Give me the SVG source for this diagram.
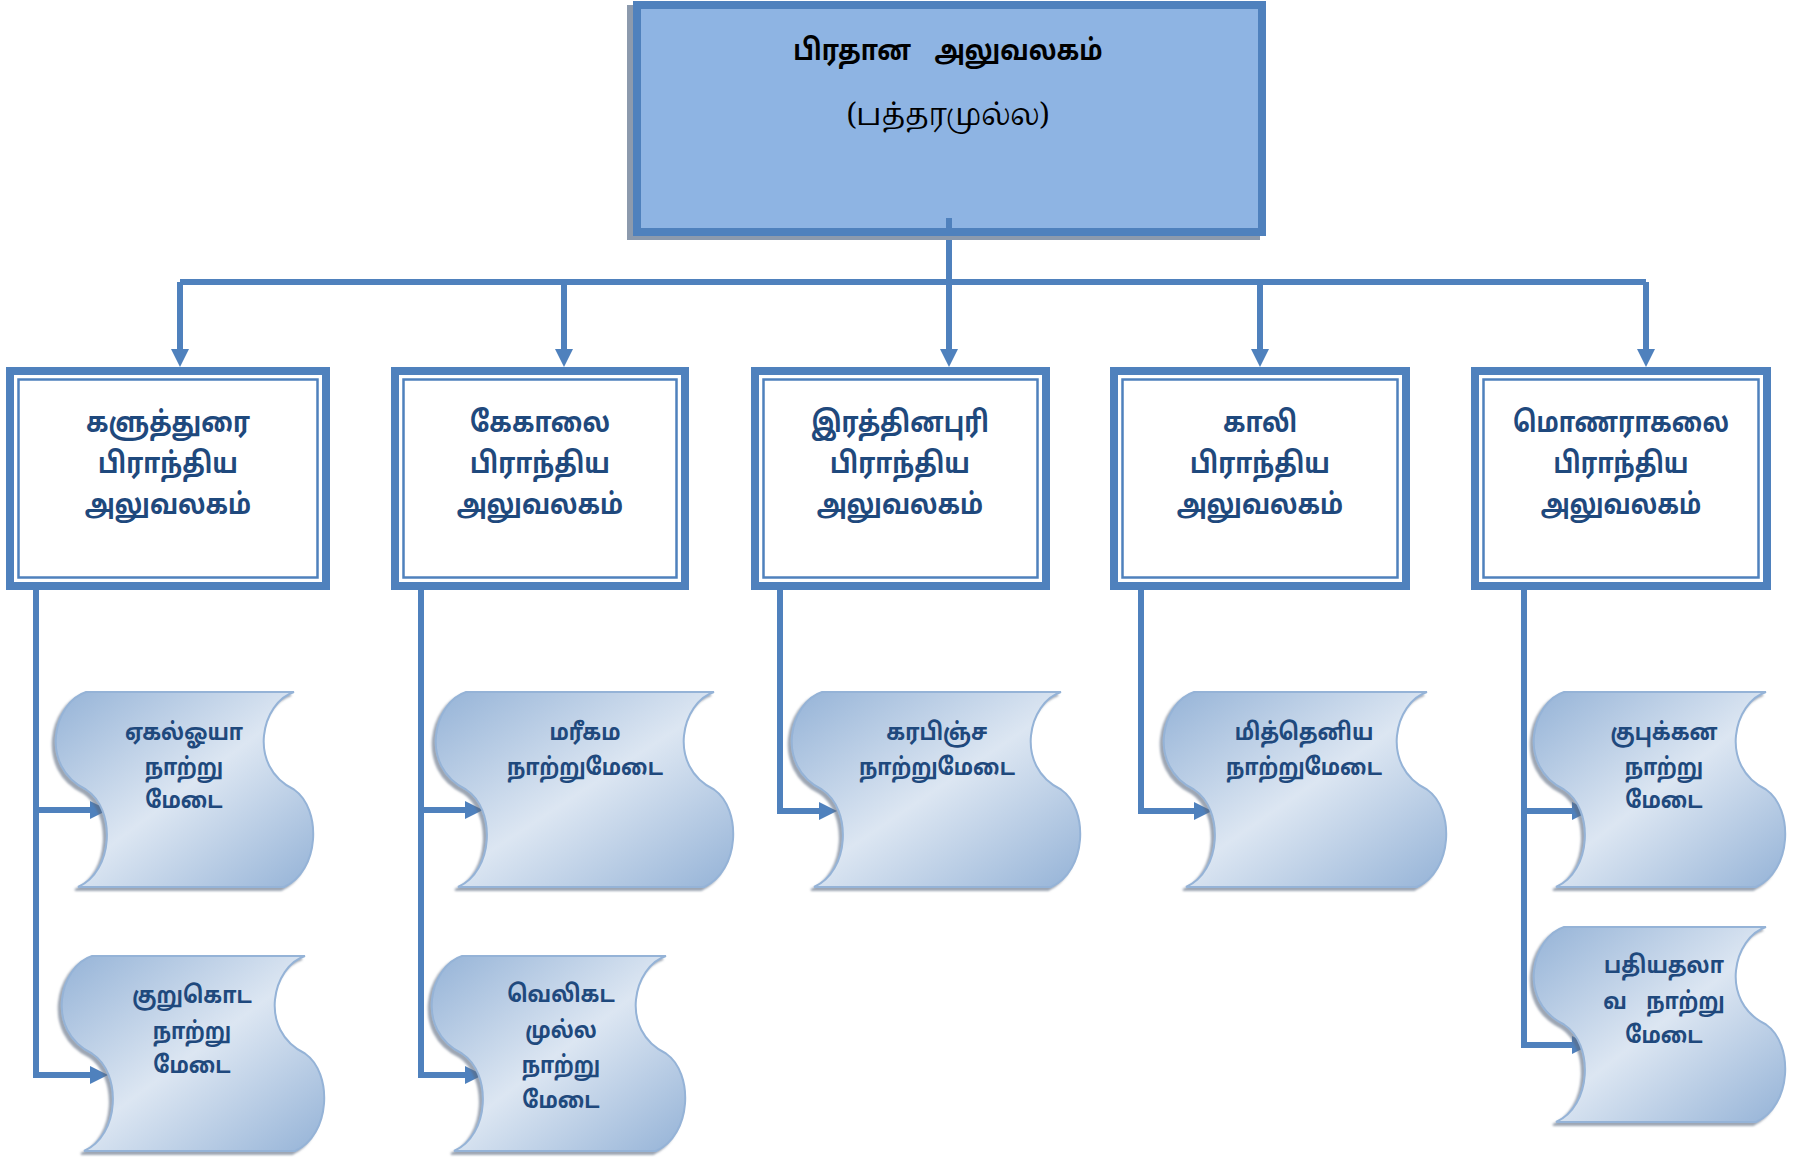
<svg xmlns="http://www.w3.org/2000/svg" width="1796" height="1157" viewBox="0 0 1796 1157">
<style>
.conn{fill:none;stroke:#4F81BD;stroke-width:6;stroke-linejoin:miter}
.rbox{fill:#FFFFFF;stroke:#4F81BD;stroke-width:8}
.rin{fill:none;stroke:#4F81BD;stroke-width:2.5}
.rtxt{font-family:"Noto Sans Tamil","Latha","Lohit Tamil","Noto Sans",sans-serif;font-weight:bold;font-size:29px;fill:#1F497D;text-anchor:middle}
.stxt{font-family:"Noto Sans Tamil","Latha","Lohit Tamil","Noto Sans",sans-serif;font-weight:bold;font-size:24px;fill:#1F497D;text-anchor:middle;white-space:pre}
.scroll{fill:url(#sg);stroke:#95B3D7;stroke-width:2;filter:url(#sh)}
.title{font-family:"Noto Sans Tamil","Latha","Lohit Tamil","Noto Sans",sans-serif;font-weight:bold;font-size:29px;fill:#000000;text-anchor:middle;white-space:pre;word-spacing:6px}
.sub{font-family:"Noto Serif Tamil","Noto Sans Tamil","Latha","Liberation Serif",serif;font-size:31px;fill:#000000;text-anchor:middle}
</style>
<defs>
<linearGradient id="sg" x1="0" y1="0" x2="1" y2="1">
<stop offset="0" stop-color="#95B3D7"/>
<stop offset="0.5" stop-color="#DCE6F2"/>
<stop offset="1" stop-color="#95B3D7"/>
</linearGradient>
<filter id="sh" x="-10%" y="-10%" width="120%" height="120%">
<feDropShadow dx="-3" dy="3" stdDeviation="1.2" flood-color="#5A6A80" flood-opacity="0.6"/>
</filter>
<marker id="ah" markerUnits="userSpaceOnUse" markerWidth="20" markerHeight="20" viewBox="0 0 20 20" refX="8" refY="10" orient="auto">
<path d="M0,1 L18,10 L0,19 Z" fill="#4F81BD"/>
</marker>
</defs>

<g id="connectors">
<path class="conn" d="M949,218 V282"/>
<path class="conn" d="M180,282 H1646"/>
<path class="conn" d="M180,282 V357" marker-end="url(#ah)"/>
<path class="conn" d="M564,282 V357" marker-end="url(#ah)"/>
<path class="conn" d="M949,282 V357" marker-end="url(#ah)"/>
<path class="conn" d="M1260,282 V357" marker-end="url(#ah)"/>
<path class="conn" d="M1646,282 V357" marker-end="url(#ah)"/>
<path class="conn" d="M36,590 V1075 H98" marker-end="url(#ah)"/>
<path class="conn" d="M36,810 H98" marker-end="url(#ah)"/>
<path class="conn" d="M421,590 V1075 H473" marker-end="url(#ah)"/>
<path class="conn" d="M421,810 H473" marker-end="url(#ah)"/>
<path class="conn" d="M780,590 V811 H827" marker-end="url(#ah)"/>
<path class="conn" d="M1141,590 V811 H1202" marker-end="url(#ah)"/>
<path class="conn" d="M1524,590 V1045 H1580" marker-end="url(#ah)"/>
<path class="conn" d="M1524,811 H1580" marker-end="url(#ah)"/>
</g>

<g id="head">
<rect x="627" y="5" width="633" height="235" fill="#8C9AAD"/>
<rect x="637" y="5" width="625" height="227" fill="#8EB4E3" stroke="#4F81BD" stroke-width="8"/>
<text class="title" xml:space="preserve" transform="translate(948,0) scale(0.86,1)" x="0" y="60">பிரதான  அலுவலகம்</text>
<text class="sub" transform="translate(948,0) scale(0.9,1)" x="0" y="125">(பத்தரமுல்ல)</text>
<path class="conn" d="M949,218 V232"/>
</g>

<g id="r1">
<rect class="rbox" x="10" y="371" width="316" height="215"/>
<rect class="rin" x="18.5" y="379.5" width="299" height="198"/>
<g transform="translate(168,0) scale(0.85,1)">
<text class="rtxt" x="0" y="432">களுத்துரை</text>
<text class="rtxt" x="0" y="473">பிராந்திய</text>
<text class="rtxt" x="0" y="514">அலுவலகம்</text>
</g>
</g>
<g id="r2">
<rect class="rbox" x="395" y="371" width="290" height="215"/>
<rect class="rin" x="403.5" y="379.5" width="273" height="198"/>
<g transform="translate(540,0) scale(0.85,1)">
<text class="rtxt" x="0" y="432">கேகாலை</text>
<text class="rtxt" x="0" y="473">பிராந்திய</text>
<text class="rtxt" x="0" y="514">அலுவலகம்</text>
</g>
</g>
<g id="r3">
<rect class="rbox" x="755" y="371" width="291" height="215"/>
<rect class="rin" x="763.5" y="379.5" width="274" height="198"/>
<g transform="translate(900,0) scale(0.85,1)">
<text class="rtxt" x="0" y="432">இரத்தினபுரி</text>
<text class="rtxt" x="0" y="473">பிராந்திய</text>
<text class="rtxt" x="0" y="514">அலுவலகம்</text>
</g>
</g>
<g id="r4">
<rect class="rbox" x="1114" y="371" width="292" height="215"/>
<rect class="rin" x="1122.5" y="379.5" width="275" height="198"/>
<g transform="translate(1260,0) scale(0.85,1)">
<text class="rtxt" x="0" y="432">காலி</text>
<text class="rtxt" x="0" y="473">பிராந்திய</text>
<text class="rtxt" x="0" y="514">அலுவலகம்</text>
</g>
</g>
<g id="r5">
<rect class="rbox" x="1475" y="371" width="292" height="215"/>
<rect class="rin" x="1483.5" y="379.5" width="275" height="198"/>
<g transform="translate(1621,0) scale(0.82,1)">
<text class="rtxt" x="0" y="432">மொணராகலை</text>
<text class="rtxt" x="0" y="473">பிராந்திய</text>
<text class="rtxt" x="0" y="514">அலுவலகம்</text>
</g>
</g>

<g id="s1">
<path class="scroll" d="M86,692 L294,692 C262,702 246,766 294,789.5 C322,809 320,871 284,887 L78,887 C114,871 116,809 86,789.5 C38,766 54,702 86,692 Z"/>
<g transform="translate(184,0) scale(0.86,1)">
<text class="stxt" x="0" y="740">ஏகல்ஓயா</text>
<text class="stxt" x="0" y="775">நாற்று</text>
<text class="stxt" x="0" y="808">மேடை</text>
</g>
</g>
<g id="s2">
<path class="scroll" d="M92,956 L305,956 C273,966 257,1030 305,1053.5 C333,1073 331,1135 295,1151 L84,1151 C120,1135 122,1073 92,1053.5 C44,1030 60,966 92,956 Z"/>
<g transform="translate(192,0) scale(0.86,1)">
<text class="stxt" x="0" y="1003">குறுகொட</text>
<text class="stxt" x="0" y="1039">நாற்று</text>
<text class="stxt" x="0" y="1073">மேடை</text>
</g>
</g>
<g id="s3">
<path class="scroll" d="M466,692 L714,692 C682,702 666,766 714,789.5 C742,809 740,871 704,887 L458,887 C494,871 496,809 466,789.5 C418,766 434,702 466,692 Z"/>
<g transform="translate(585,0) scale(0.86,1)">
<text class="stxt" x="0" y="740">மரீகம</text>
<text class="stxt" x="0" y="775">நாற்றுமேடை</text>
</g>
</g>
<g id="s4">
<path class="scroll" d="M462,956 L666,956 C634,966 618,1030 666,1053.5 C694,1073 692,1135 656,1151 L454,1151 C490,1135 492,1073 462,1053.5 C414,1030 430,966 462,956 Z"/>
<g transform="translate(561,0) scale(0.86,1)">
<text class="stxt" x="0" y="1002">வெலிகட</text>
<text class="stxt" x="0" y="1038">முல்ல</text>
<text class="stxt" x="0" y="1073">நாற்று</text>
<text class="stxt" x="0" y="1108">மேடை</text>
</g>
</g>
<g id="s5">
<path class="scroll" d="M822,692 L1061,692 C1029,702 1013,766 1061,789.5 C1089,809 1087,871 1051,887 L814,887 C850,871 852,809 822,789.5 C774,766 790,702 822,692 Z"/>
<g transform="translate(937,0) scale(0.86,1)">
<text class="stxt" x="0" y="740">கரபிஞ்ச</text>
<text class="stxt" x="0" y="775">நாற்றுமேடை</text>
</g>
</g>
<g id="s6">
<path class="scroll" d="M1194,692 L1427,692 C1395,702 1379,766 1427,789.5 C1455,809 1453,871 1417,887 L1186,887 C1222,871 1224,809 1194,789.5 C1146,766 1162,702 1194,692 Z"/>
<g transform="translate(1304,0) scale(0.86,1)">
<text class="stxt" x="0" y="740">மித்தெனிய</text>
<text class="stxt" x="0" y="775">நாற்றுமேடை</text>
</g>
</g>
<g id="s7">
<path class="scroll" d="M1564,692 L1766,692 C1734,702 1718,766 1766,789.5 C1794,809 1792,871 1756,887 L1556,887 C1592,871 1594,809 1564,789.5 C1516,766 1532,702 1564,692 Z"/>
<g transform="translate(1664,0) scale(0.86,1)">
<text class="stxt" x="0" y="740">குபுக்கன</text>
<text class="stxt" x="0" y="775">நாற்று</text>
<text class="stxt" x="0" y="808">மேடை</text>
</g>
</g>
<g id="s8">
<path class="scroll" d="M1564,927 L1766,927 C1734,937 1718,1001 1766,1024.5 C1794,1044 1792,1106 1756,1122 L1556,1122 C1592,1106 1594,1044 1564,1024.5 C1516,1001 1532,937 1564,927 Z"/>
<g transform="translate(1664,0) scale(0.86,1)">
<text class="stxt" x="0" y="973">பதியதலா</text>
<text class="stxt" xml:space="preserve" style="word-spacing:5px" x="0" y="1009">வ  நாற்று</text>
<text class="stxt" x="0" y="1043">மேடை</text>
</g>
</g>
</svg>
